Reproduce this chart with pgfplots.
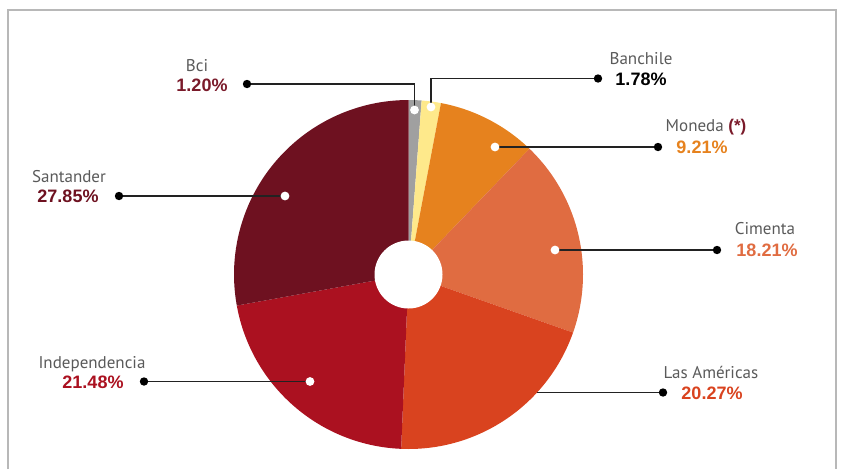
\documentclass[border=0pt]{standalone}
\usepackage{fontspec}
\setmainfont{PT Sans}
\newfontfamily\pctfont{Liberation Sans}
\usepackage{pgfplots}
\pgfplotsset{compat=1.18}
\usepackage{pgfplotstable}

% slice colours, in table order
\definecolor{slice0}{HTML}{A0A0A0}
\definecolor{slice1}{HTML}{FEE98B}
\definecolor{slice2}{HTML}{E6821E}
\definecolor{slice3}{HTML}{E06C41}
\definecolor{slice4}{HTML}{D9431F}
\definecolor{slice5}{HTML}{AB1120}
\definecolor{slice6}{HTML}{6E1120}
\definecolor{namegray}{HTML}{5A5A5A}
\definecolor{bcired}{HTML}{7A1A2A}
\definecolor{leader}{HTML}{222222}

\pgfplotstableread{
name pct
Bci 1.20
Banchile 1.78
Moneda 9.21
Cimenta 18.21
LasAmericas 20.27
Independencia 21.48
Santander 27.85
}\shares

\begin{document}
\begin{tikzpicture}[
    lbl/.style={font=\fontsize{17}{19}\selectfont, text=namegray, inner sep=0pt, anchor=base},
    pct/.style={font=\pctfont\bfseries\fontsize{18}{20}\selectfont, inner sep=0pt, anchor=base},
    ldr/.style={draw=leader, line width=1.3pt},
    wdot/.style={fill=white},
    bdot/.style={fill=black},
]
% start / end angle of each slice, clockwise from 12 o'clock
\xdef\cum{0}
\foreach \i in {0,...,6}{
  \pgfplotstablegetelem{\i}{pct}\of\shares
  \pgfmathsetmacro\angS{90-3.6*\cum}
  \pgfmathsetmacro\angE{90-3.6*(\cum+\pgfplotsretval)}
  \expandafter\xdef\csname sa\i\endcsname{\angS}
  \expandafter\xdef\csname ea\i\endcsname{\angE}
  \pgfmathsetmacro\newcum{\cum+\pgfplotsretval}
  \xdef\cum{\newcum}
}
\begin{axis}[
    x=1pt, y=1pt,
    xmin=0, xmax=843,
    ymin=0, ymax=469,
    y dir=reverse,
    hide axis,
    clip=false,
]
\path (axis cs:0,0) rectangle (axis cs:843,469);

% frame
\draw[draw=black!28, line width=1.3pt]
    (axis cs:8,469) -- (axis cs:8,10) -- (axis cs:836,10) -- (axis cs:836,469);

% wedges
\pgfplotsinvokeforeach{0,...,6}{
  \fill[slice#1] (axis cs:408.5,274.5) -- ++(\csname sa#1\endcsname:174.5pt)
      arc[start angle=\csname sa#1\endcsname, end angle=\csname ea#1\endcsname, radius=174.5pt] -- cycle;
}
\fill[white] (axis cs:408.5,274.5) circle[radius=34pt];

% leaders
\draw[ldr] (axis cs:414.5,110) |- (axis cs:247,84);
\draw[ldr] (axis cs:431,107) |- (axis cs:598,78.5);
\draw[ldr] (axis cs:495,147) -- (axis cs:658,147);
\draw[ldr] (axis cs:555,250) -- (axis cs:717,250);
\draw[ldr] (axis cs:537,392.5) -- (axis cs:663,392.5);
\draw[ldr] (axis cs:285,196) -- (axis cs:119,196);
\draw[ldr] (axis cs:310,381.5) -- (axis cs:144,381.5);

\fill[wdot] (axis cs:414.5,110) circle[radius=4.4pt];
\fill[wdot] (axis cs:431,107) circle[radius=4.4pt];
\fill[wdot] (axis cs:495,147) circle[radius=4.4pt];
\fill[wdot] (axis cs:555,250) circle[radius=4.4pt];
\fill[wdot] (axis cs:285,196) circle[radius=4.4pt];
\fill[wdot] (axis cs:310,381.5) circle[radius=4.4pt];

\fill[bdot] (axis cs:247,84) circle[radius=4.2pt];
\fill[bdot] (axis cs:598,78.5) circle[radius=4.2pt];
\fill[bdot] (axis cs:658,147) circle[radius=4.2pt];
\fill[bdot] (axis cs:717,250) circle[radius=4.2pt];
\fill[bdot] (axis cs:663,392.5) circle[radius=4.2pt];
\fill[bdot] (axis cs:119,196) circle[radius=4.2pt];
\fill[bdot] (axis cs:144,381.5) circle[radius=4.2pt];

% labels
\node[lbl] at (axis cs:197,71) {Bci};
\node[pct, text=bcired] at (axis cs:202,91) {1.20\%};
\node[lbl] at (axis cs:641,64) {Banchile};
\node[pct, text=black] at (axis cs:641,85.5) {1.78\%};
\node[lbl] at (axis cs:706,131) {Moneda {\pctfont\bfseries\color{bcired}(*)}};
\node[pct, text=slice2] at (axis cs:702,153.5) {9.21\%};
\node[lbl] at (axis cs:765,234) {Cimenta};
\node[pct, text=slice3] at (axis cs:767,256.5) {18.21\%};
\node[lbl] at (axis cs:711,378) {Las Américas};
\node[pct, text=slice4] at (axis cs:712,399.5) {20.27\%};
\node[lbl] at (axis cs:69,182) {Santander};
\node[pct, text=slice6] at (axis cs:68,202.5) {27.85\%};
\node[lbl] at (axis cs:92,368) {Independencia};
\node[pct, text=slice5] at (axis cs:93,388.5) {21.48\%};
\end{axis}
\end{tikzpicture}
\end{document}
